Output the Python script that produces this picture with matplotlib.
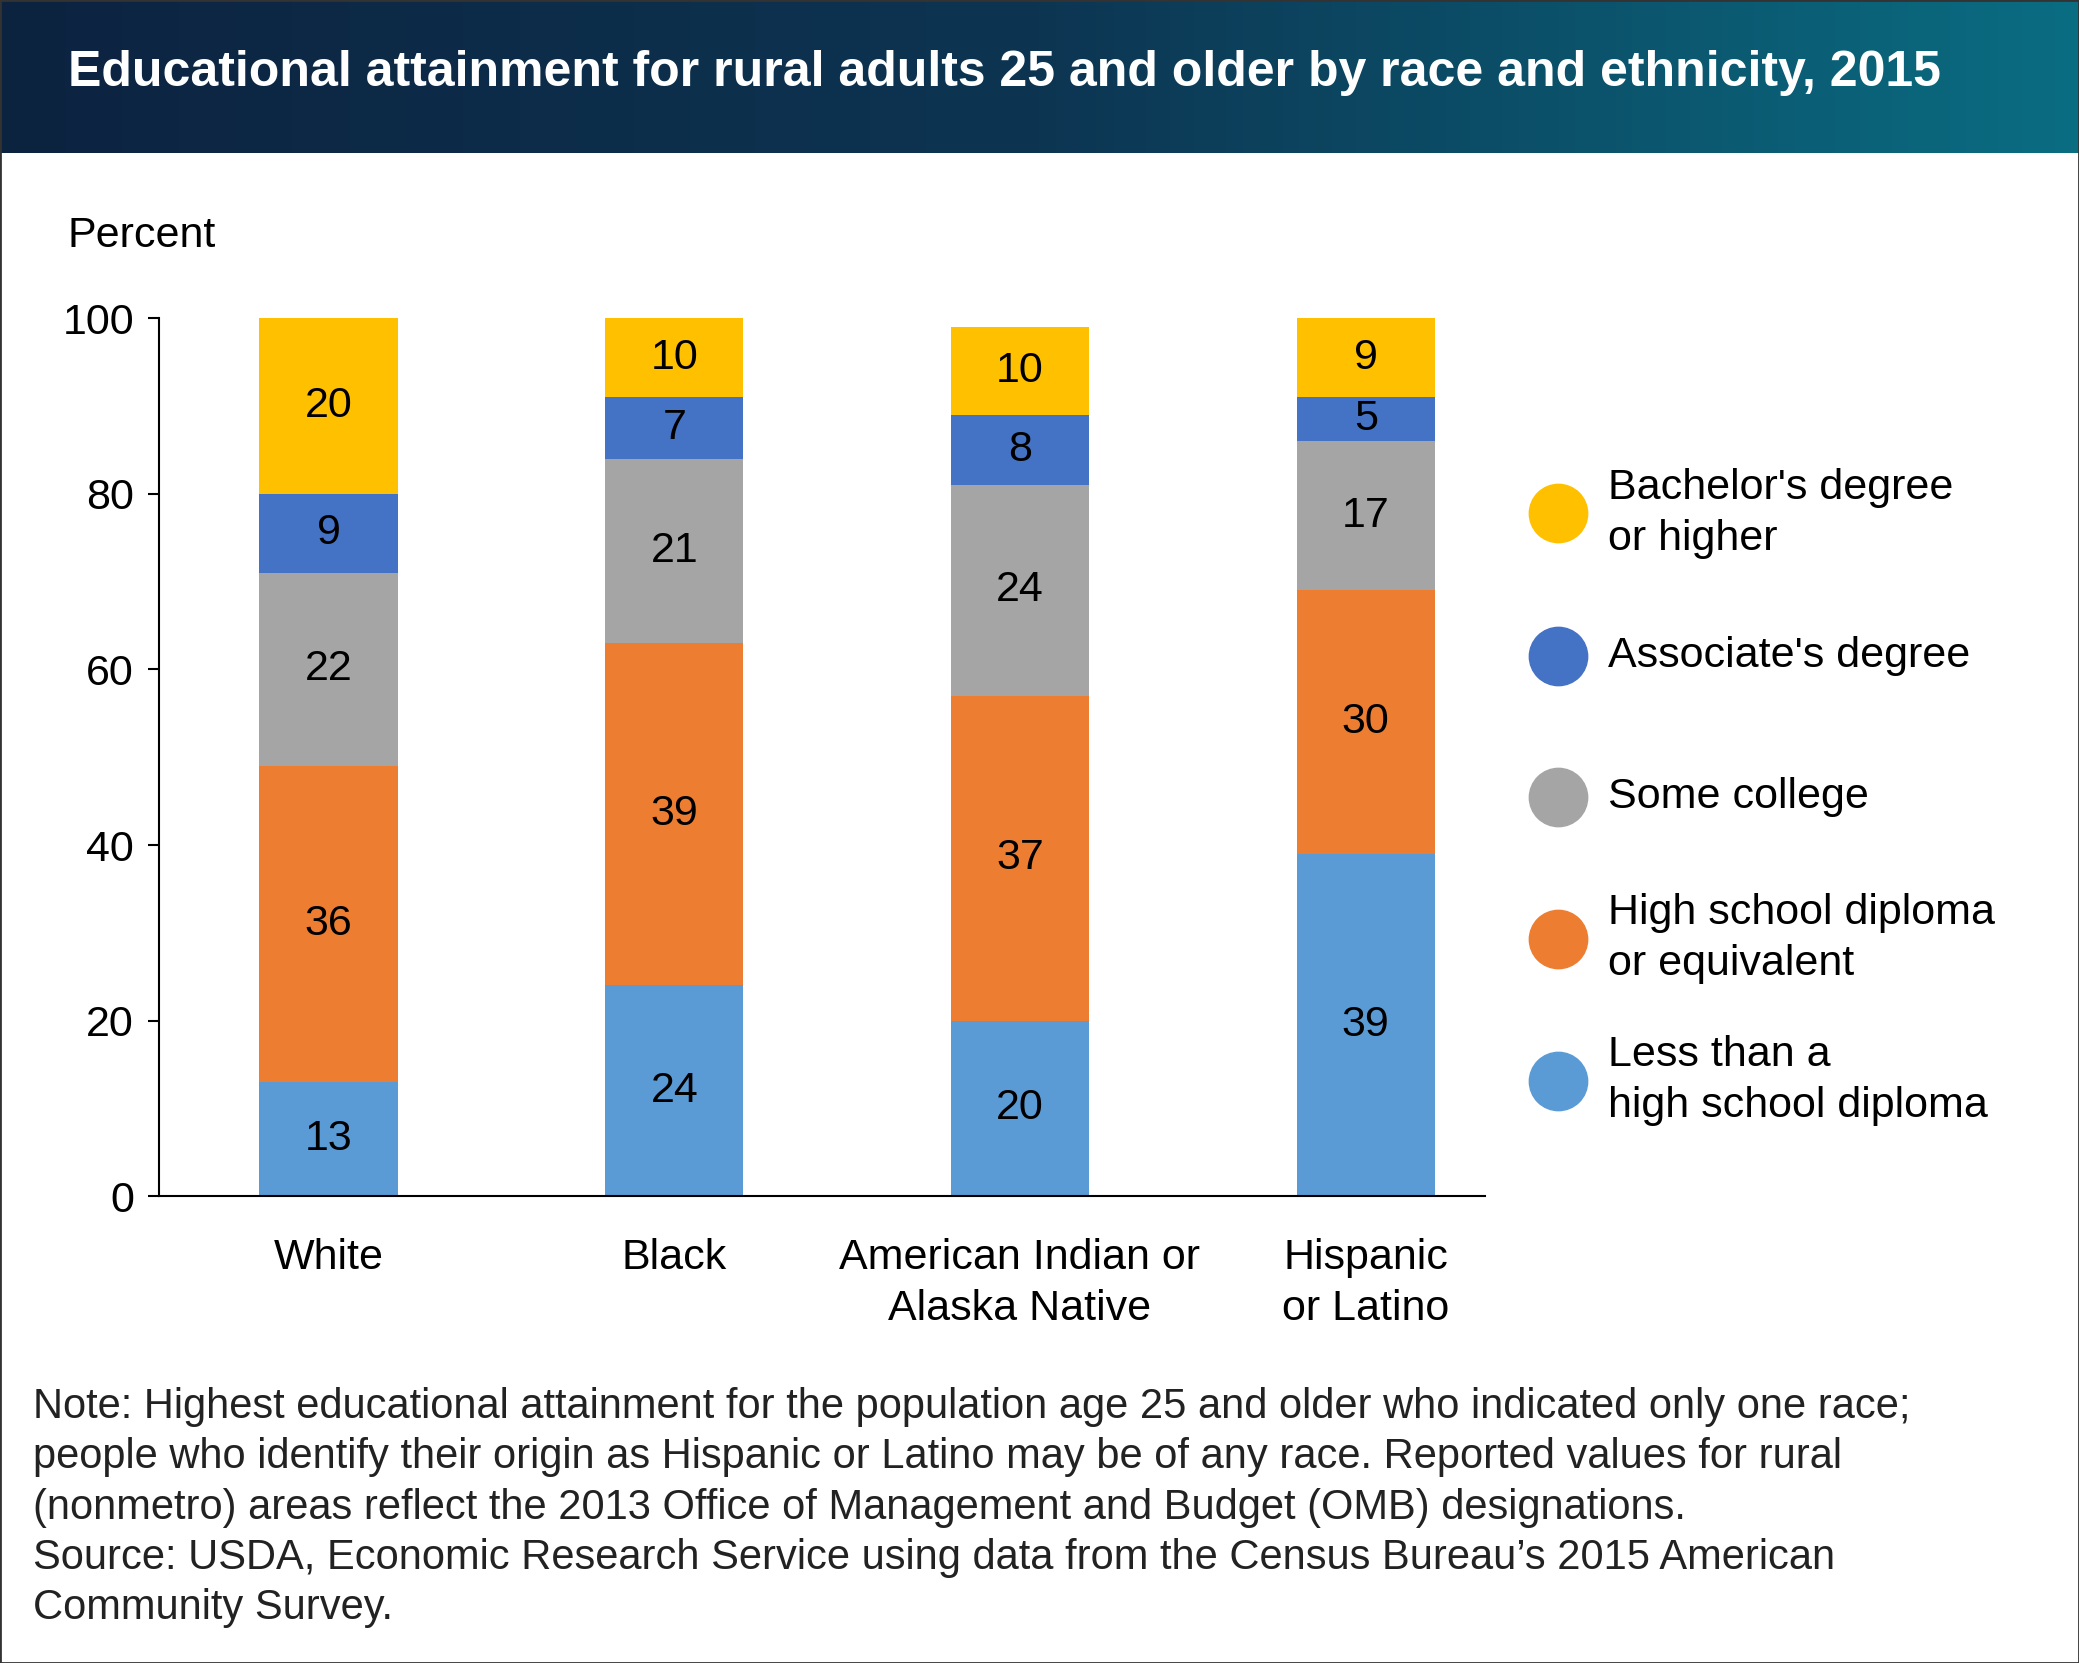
import numpy as np
import matplotlib
matplotlib.use("Agg")
from matplotlib import pyplot as plt
from matplotlib.lines import Line2D
from matplotlib.patches import Rectangle
from matplotlib.colors import LinearSegmentedColormap

plt.rcParams['font.family'] = ['Liberation Sans', 'DejaVu Sans']

groups = ["White", "Black", "American Indian or\nAlaska Native", "Hispanic\nor Latino"]
series = ["Less than a\nhigh school diploma", "High school diploma\nor equivalent",
          "Some college", "Associate's degree", "Bachelor's degree\nor higher"]
less_hs = [13, 24, 20, 39]
high_school = [36, 39, 37, 30]
some_college = [22, 21, 24, 17]
associate = [9, 7, 8, 5]
bachelor = [20, 10, 10, 9]
colors = ["#5b9bd5", "#ed7d31", "#a5a5a5", "#4472c4", "#ffc000"]

W, H = 1568, 1254
fig = plt.figure(figsize=(20.79, 16.63), dpi=100)

# title band with gradient
band = fig.add_axes([0, 1 - 115 / H, 1, 115 / H])
grad = np.linspace(0, 1, 256).reshape(1, -1)
cmap = LinearSegmentedColormap.from_list("b", ["#0c2340", "#0d3552", "#0a6d82"])
band.imshow(grad, aspect='auto', cmap=cmap, extent=[0, 1, 0, 1])
band.set_axis_off()
fig.text(51 / W, 1 - 55 / H, "Educational attainment for rural adults 25 and older by race and ethnicity, 2015",
         color='white', fontsize=36, fontweight='bold', va='center', ha='left')

ax = fig.add_axes([120 / W, 1 - 902 / H, 1000 / W, 662 / H])
x = np.arange(len(groups))
bottom = np.zeros(len(groups))
for vals, c in zip([less_hs, high_school, some_college, associate, bachelor], colors):
    vals = np.array(vals, dtype=float)
    ax.bar(x, vals, 0.4, bottom=bottom, color=c)
    for xi, b, v in zip(x, bottom, vals):
        mid = min(b + v / 2, (b + 100) / 2)
        ax.text(xi, mid, f"{int(v)}", ha='center', va='center', fontsize=31)
    bottom += vals
ax.set_ylim(0, 100)
ax.set_xlim(-0.49, 3.345)
ax.set_yticks(range(0, 101, 20))
ax.set_xticks(x)
ax.set_xticklabels(groups, fontsize=31, linespacing=1.35)
ax.tick_params(axis='y', labelsize=31, direction='out', length=8, width=1.5, pad=10)
ax.tick_params(axis='x', length=0, pad=30)
for s in ['top', 'right']:
    ax.spines[s].set_visible(False)
ax.spines['left'].set_linewidth(1.5)
ax.spines['bottom'].set_linewidth(1.5)
fig.text(51 / W, 1 - 178 / H, "Percent", fontsize=31, va='center')

# legend
ys = [815, 708, 601, 495, 387]
for lab, c, yy in zip(series, colors, ys):
    fig.add_artist(Line2D([1175 / W], [1 - yy / H], marker='o', markersize=42,
                          color=c, linestyle='none', transform=fig.transFigure))
    fig.text(1213 / W, 1 - yy / H, lab, fontsize=31, va='center', linespacing=1.35)

note = ("Note: Highest educational attainment for the population age 25 and older who indicated only one race;\n"
        "people who identify their origin as Hispanic or Latino may be of any race. Reported values for rural\n"
        "(nonmetro) areas reflect the 2013 Office of Management and Budget (OMB) designations.\n"
        "Source: USDA, Economic Research Service using data from the Census Bureau\u2019s 2015 American\n"
        "Community Survey.")
fig.text(25 / W, 1 - 1046 / H, note, fontsize=30, va='top', linespacing=1.33, color='#222222')

fig.add_artist(Rectangle((0, 0), 1, 1, transform=fig.transFigure, fill=False,
                         edgecolor='#333333', linewidth=2))
fig.savefig("out.png", dpi=100)
